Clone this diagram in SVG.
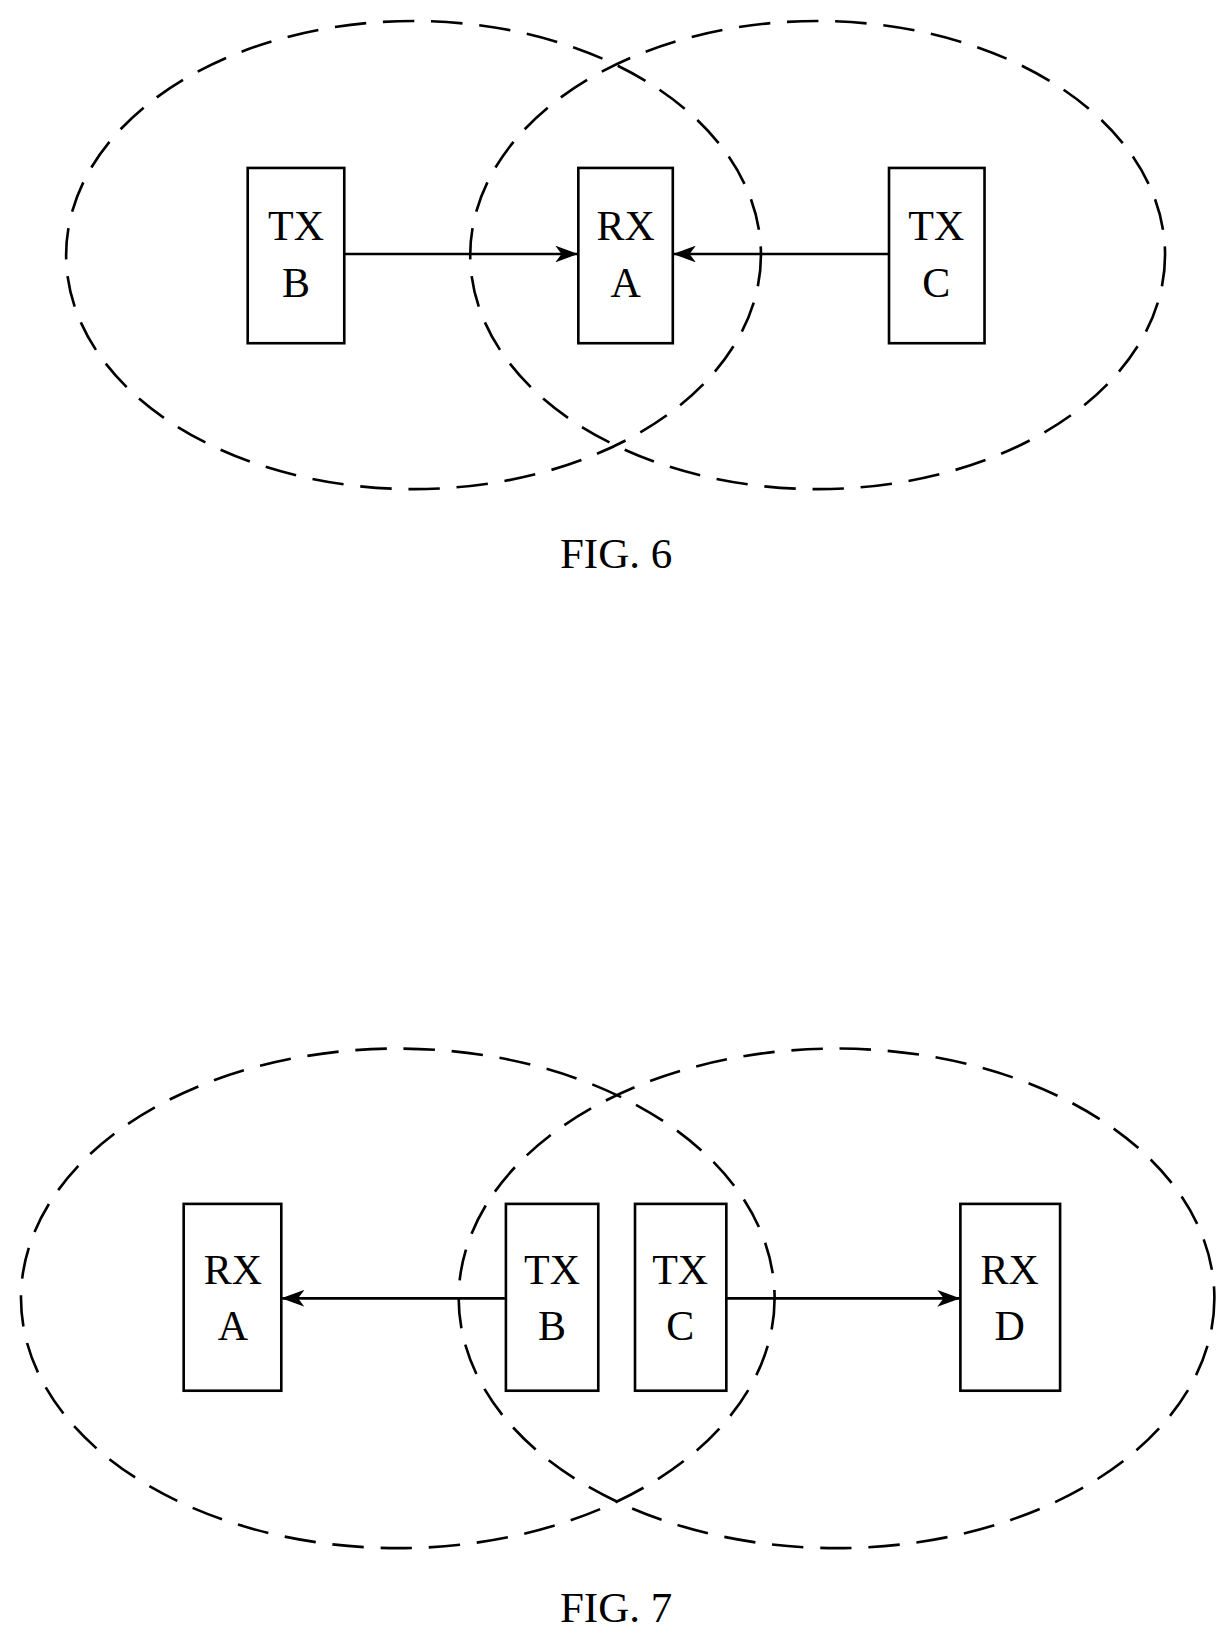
<svg xmlns="http://www.w3.org/2000/svg" width="1228" height="1639" viewBox="0 0 1228 1639">
<style>
.e{fill:none;stroke:#000;stroke-width:2.5;stroke-dasharray:30 16}
.b{fill:#fff;stroke:#000;stroke-width:2.5}
.l{stroke:#000;stroke-width:2.5;fill:none}
text{font-family:"Liberation Serif",serif;font-size:40px;text-anchor:middle;fill:#000}
.f{font-size:41px}
</style>
<defs><marker id="a" markerWidth="22" markerHeight="16" refX="21" refY="8" orient="auto" markerUnits="userSpaceOnUse" viewBox="0 0 22 16"><path d="M0,0L22,8L0,16L6,8z" fill="#000"/></marker></defs>
<rect width="1228" height="1639" fill="#fff"/>
<g transform="scale(1.0496)">
<g id="fig6">
<ellipse class="e" cx="394" cy="243" rx="331" ry="223"/>
<ellipse class="e" cx="779" cy="243" rx="331" ry="223"/>
<g id="connectors6">
<line class="l" x1="328" y1="242" x2="550" y2="242" marker-end="url(#a)"/>
<line class="l" x1="847" y1="242" x2="642" y2="242" marker-end="url(#a)"/>
</g>
<g id="txb6"><rect class="b" x="236" y="160" width="92" height="167"/><text x="282" y="229">TX</text><text x="282" y="283">B</text></g>
<g id="rxa6"><rect class="b" x="551" y="160" width="90" height="167"/><text x="596" y="229">RX</text><text x="596" y="283">A</text></g>
<g id="txc6"><rect class="b" x="847" y="160" width="91" height="167"/><text x="892" y="229">TX</text><text x="892" y="283">C</text></g>
<text class="f" x="587" y="541">FIG. 6</text>
</g>
<g id="fig7">
<ellipse class="e" cx="379" cy="1237" rx="359" ry="238"/>
<ellipse class="e" cx="797" cy="1237" rx="360" ry="238"/>
<g id="connectors7">
<line class="l" x1="482" y1="1237" x2="269" y2="1237" marker-end="url(#a)"/>
<line class="l" x1="692" y1="1237" x2="914" y2="1237" marker-end="url(#a)"/>
</g>
<g id="rxa7"><rect class="b" x="175" y="1147" width="93" height="178"/><text x="222" y="1223">RX</text><text x="222" y="1277">A</text></g>
<g id="txb7"><rect class="b" x="482" y="1147" width="88" height="178"/><text x="526" y="1223">TX</text><text x="526" y="1277">B</text></g>
<g id="txc7"><rect class="b" x="605" y="1147" width="87" height="178"/><text x="648" y="1223">TX</text><text x="648" y="1277">C</text></g>
<g id="rxd7"><rect class="b" x="915" y="1147" width="95" height="178"/><text x="962" y="1223">RX</text><text x="962" y="1277">D</text></g>
<text class="f" x="587" y="1545">FIG. 7</text>
</g>
</g>
</svg>
